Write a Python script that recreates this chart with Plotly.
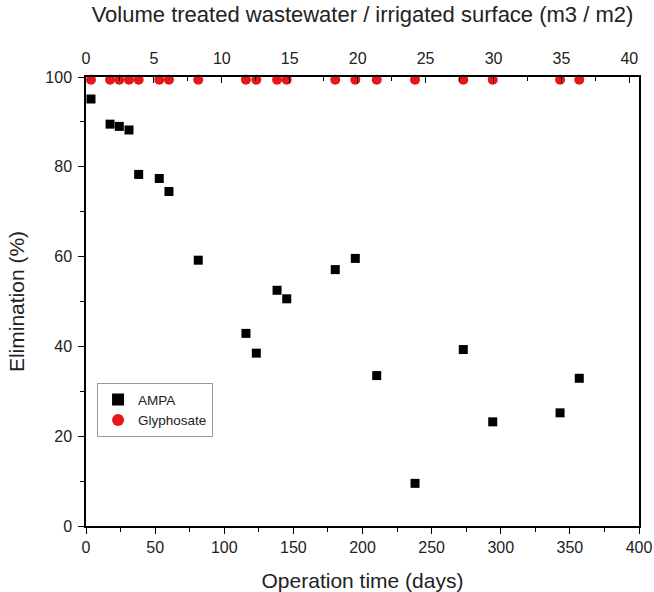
import plotly.graph_objects as go

# Operation time (days) for each sampling
days = [3.6, 17.4, 24.1, 31.1, 38.1, 53.0, 60.0, 81.2, 115.7, 123.2,
        138.2, 145.2, 180.3, 194.8, 210.3, 238.0, 272.9, 294.2, 342.9, 356.8]
# AMPA elimination (%)
ampa = [95.1, 89.5, 89.0, 88.2, 78.3, 77.4, 74.5, 59.2, 42.9, 38.5,
        52.5, 50.6, 57.1, 59.6, 33.5, 9.5, 39.3, 23.2, 25.2, 32.9]
# Glyphosate elimination (%)
glyphosate = [99.4] * 20

x_ticks = [0, 50, 100, 150, 200, 250, 300, 350, 400]
y_ticks = [0, 20, 40, 60, 80, 100]
top_ticks = [0, 5, 10, 15, 20, 25, 30, 35, 40]

FONT = "Liberation Sans, Arial, sans-serif"

fig = go.Figure()
fig.add_trace(go.Scatter(
    x=days, y=ampa, mode="markers", name="AMPA",
    marker=dict(symbol="square", size=9, color="black"),
    cliponaxis=False,
))
fig.add_trace(go.Scatter(
    x=days, y=glyphosate, mode="markers", name="Glyphosate",
    marker=dict(symbol="circle", size=10, color="#e8161b"),
    cliponaxis=False,
))
# helper trace so the top axis is drawn
fig.add_trace(go.Scatter(
    x=[top_ticks[0], top_ticks[-1]], y=[None, None], xaxis="x2",
    mode="markers", showlegend=False, hoverinfo="skip",
))

axis_font = dict(family=FONT, size=16, color="#222")
title_font = dict(family=FONT, size=21, color="#222")

fig.update_layout(
    width=654, height=592,
    margin=dict(l=86, r=15, t=77, b=66),
    paper_bgcolor="white", plot_bgcolor="white",
    font=dict(family=FONT, color="#222"),
    showlegend=True,
    legend=dict(
        x=0.02, y=0.318, xanchor="left", yanchor="top",
        bordercolor="#999", borderwidth=1, bgcolor="white",
        font=dict(family=FONT, size=13.5, color="#222"),
        tracegroupgap=0, itemsizing="constant",
    ),
    xaxis=dict(
        range=[0, 400], tickvals=x_ticks, ticks="outside", ticklen=6,
        tickwidth=1.3, tickcolor="black", automargin=False,
        minor=dict(dtick=25, ticks="outside", ticklen=4, tickcolor="black", tickwidth=1.2),
        showline=True, linecolor="black", linewidth=1.5, showgrid=False,
        zeroline=False, tickfont=axis_font,
        title=dict(text="Operation time (days)", font=title_font, standoff=19),
    ),
    xaxis2=dict(
        overlaying="x", side="top", range=[0, 40.71], tickvals=top_ticks,
        ticks="inside", ticklen=6, tickwidth=1.3, tickcolor="black",
        automargin=False, ticklabelstandoff=5,
        minor=dict(dtick=2.5, ticks="inside", ticklen=4, tickcolor="black", tickwidth=1.2),
        showline=True, linecolor="black", linewidth=1.5, showgrid=False,
        zeroline=False, tickfont=axis_font,
        title=dict(text="Volume treated wastewater / irrigated surface (m3 / m2)",
                   font=dict(family=FONT, size=22, color="#222"), standoff=21),
    ),
    yaxis=dict(
        range=[0, 100], tickvals=y_ticks, ticks="outside", ticklen=6,
        tickwidth=1.3, tickcolor="black", automargin=False, ticklabelstandoff=3,
        minor=dict(dtick=10, ticks="outside", ticklen=4, tickcolor="black", tickwidth=1.2),
        showline=True, mirror=True, linecolor="black", linewidth=1.5,
        showgrid=False, zeroline=False, tickfont=axis_font,
        title=dict(text="Elimination (%)", font=title_font, standoff=15),
    ),
)

fig.write_html(
    "out.html",
    config={"displayModeBar": False},
    post_script="document.body.style.margin='0';document.body.style.overflow='hidden';",
)
